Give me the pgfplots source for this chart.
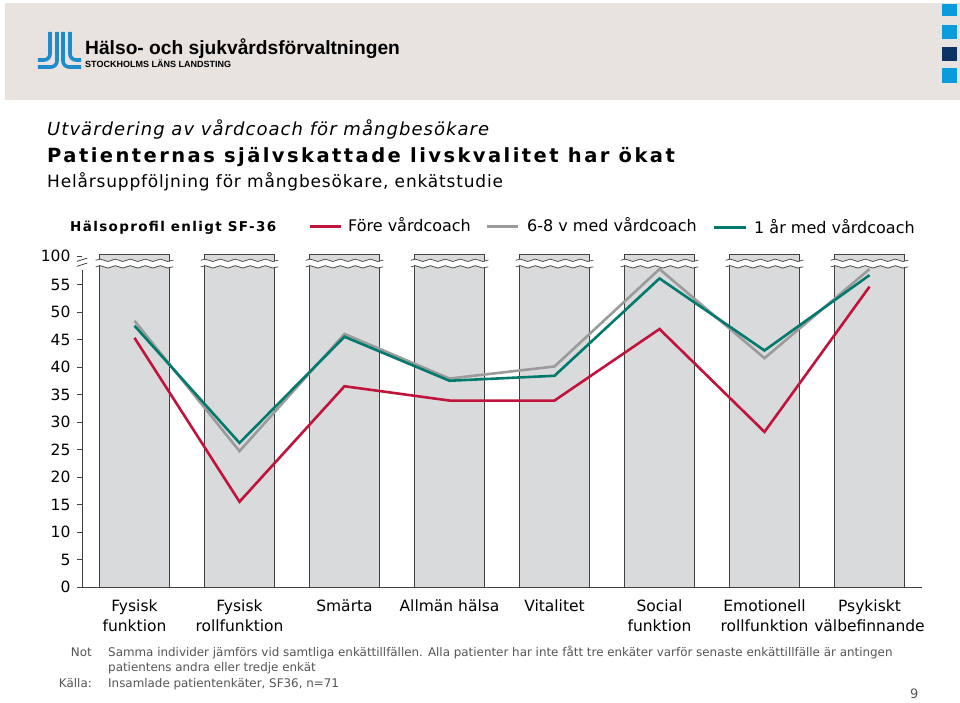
\documentclass[border=0pt]{standalone}
\usepackage{fontspec}
\setmainfont{DejaVu Sans}
\newfontfamily\logofont{Liberation Sans}
\newfontfamily\titleit[LetterSpace=5.8]{DejaVu Sans Oblique}
\newfontfamily\titlebf[LetterSpace=12.5]{DejaVu Sans Bold}
\newfontfamily\titlerm[LetterSpace=4.8]{DejaVu Sans}
\newfontfamily\legbf[LetterSpace=10.0]{DejaVu Sans Bold}
\usepackage{pgfplots}
\pgfplotsset{compat=1.18}
\usetikzlibrary{decorations.pathmorphing}
\pgfdeclarelayer{background}
\pgfsetlayers{background,main}
\definecolor{cred}{HTML}{C0143C}
\definecolor{cgray}{HTML}{9B9B9B}
\definecolor{cteal}{HTML}{007A6E}
\definecolor{cbar}{HTML}{D9DADC}
\definecolor{cbeige}{HTML}{E9E3DF}
\definecolor{cblue}{HTML}{0A9BDC}
\definecolor{cnavy}{HTML}{0C3366}
\definecolor{clogo}{HTML}{1E8CCB}
\definecolor{cnote}{HTML}{555555}
\definecolor{caxis}{HTML}{404040}

\begin{document}
\begin{tikzpicture}[x=1pt,y=1pt]
\begin{axis}[
  scale only axis, width=840pt, height=335.5pt,
  xmin=-0.5, xmax=7.5, ymin=0, ymax=61,
  axis x line=bottom, axis y line=left,
  x axis line style={-, draw=caxis, line width=0.9pt},
  y axis line style={draw=none},
  xtick={0,...,7},
  xticklabels={{Fysisk\\funktion},{Fysisk\\rollfunktion},Smärta,{Allmän hälsa},Vitalitet,{Social\\funktion},{Emotionell\\rollfunktion},{Psykiskt\\välbefinnande}},
  xticklabel style={align=center, font=\fontsize{15.5}{20}\selectfont, yshift=-4pt},
  x tick style={draw=none},
  ytick={0,5,...,55},
  extra y ticks={60.2}, extra y tick labels={100},
  y tick style={draw=caxis, line width=0.8pt},
  tick align=outside, major tick length=5pt,
  yticklabel style={font=\fontsize{15.5}{18}\selectfont, xshift=-3pt},
  /pgf/number format/assume math mode=true,
  clip=false,
]
\coordinate (P0) at (axis cs:0,0);
\addplot[ybar, bar width=0.67, fill=cbar, draw=caxis, line width=0.8pt] coordinates {
(0,60.5) (1,60.5) (2,60.5) (3,60.5) (4,60.5) (5,60.5) (6,60.5) (7,60.5)};
\pgfplotsinvokeforeach{0,...,7}{
  \draw[white, line width=5.5pt, decorate, decoration={snake, amplitude=1.2pt, segment length=15pt}] (axis cs:#1-0.37,58.85) -- (axis cs:#1+0.37,58.85);
  \draw[caxis, line width=0.7pt, decorate, decoration={snake, amplitude=1.2pt, segment length=15pt}] (axis cs:#1-0.37,59.4) -- (axis cs:#1+0.37,59.4);
  \draw[caxis, line width=0.7pt, decorate, decoration={snake, amplitude=1.2pt, segment length=15pt}] (axis cs:#1-0.37,58.2) -- (axis cs:#1+0.37,58.2);
}
% y axis line with break
\draw[caxis, line width=0.9pt] (axis cs:-0.5,0) -- (axis cs:-0.5,57.7);
\draw[caxis, line width=0.8pt] (axis cs:-0.55,58.3) -- (axis cs:-0.45,58.9);
\draw[caxis, line width=0.8pt] (axis cs:-0.55,59.2) -- (axis cs:-0.45,59.8);
\addplot[cred, line width=2.6pt] coordinates {
(0,45.3) (1,15.5) (2,36.5) (3,33.9) (4,33.9) (5,46.9) (6,28.2) (7,54.6)};
\addplot[cgray, line width=2.6pt] coordinates {
(0,48.4) (1,24.7) (2,46.0) (3,37.9) (4,40.1) (5,57.8) (6,41.6) (7,57.8)};
\addplot[cteal, line width=2.6pt] coordinates {
(0,47.5) (1,26.2) (2,45.5) (3,37.5) (4,38.4) (5,56.1) (6,43.0) (7,56.7)};
\end{axis}

\begin{scope}[shift={(P0)}]
\begin{scope}[shift={(-134.5,-116)}]
\begin{pgfonlayer}{background}
\path[fill=white] (0,0) rectangle (960,703);
\end{pgfonlayer}
% header band
\fill[cbeige] (5,603) rectangle (960,700);
\fill[cblue] (942,687) rectangle (957,699);
\fill[cblue] (942,664) rectangle (957,678);
\fill[cnavy] (942,642) rectangle (957,656);
\fill[cblue] (942,620) rectangle (957,635);
% logo
\begin{scope}[clogo, line width=3.6pt, rounded corners=6pt]
\draw (50,671) -- (50,643) -- (38,643);
\draw (57,671) -- (57,636) -- (38,636);
\draw (63,671) -- (63,636) -- (81,636);
\draw (70,671) -- (70,643) -- (81,643);
\end{scope}
\node[anchor=base west, inner sep=0pt, font=\logofont\bfseries\fontsize{19.2}{21}\selectfont] at (85,648) {Hälso- och sjukvårdsförvaltningen};
\node[anchor=base west, inner sep=0pt, font=\logofont\bfseries\fontsize{9.0}{10}\selectfont] at (85,635) {STOCKHOLMS LÄNS LANDSTING};
% titles
\node[anchor=base west, inner sep=0pt, font=\titleit\fontsize{18}{20}\selectfont] at (47,567) {Utvärdering av vårdcoach för mångbesökare};
\node[anchor=base west, inner sep=0pt, font=\titlebf\fontsize{19.5}{22}\selectfont] at (47,540) {Patienternas självskattade livskvalitet har ökat};
\node[anchor=base west, inner sep=0pt, font=\titlerm\fontsize{17}{19}\selectfont] at (47,515) {Helårsuppföljning för mångbesökare, enkätstudie};
% legend
\node[anchor=base west, inner sep=0pt, font=\legbf\fontsize{13.5}{16}\selectfont] at (70,471) {Hälsoprofil enligt SF-36};
\draw[cred, line width=3pt] (310,476) -- (341,476);
\node[anchor=base west, inner sep=0pt, font=\fontsize{16}{18}\selectfont] at (348,471) {Före vårdcoach};
\draw[cgray, line width=3pt] (487,476) -- (518,476);
\node[anchor=base west, inner sep=0pt, font=\fontsize{16}{18}\selectfont] at (527,471) {6-8 v med vårdcoach};
\draw[cteal, line width=3pt] (714,475) -- (746,475);
\node[anchor=base west, inner sep=0pt, font=\fontsize{16}{18}\selectfont] at (754,469) {1 år med vårdcoach};
% notes
\begin{scope}[cnote, font=\fontsize{11.9}{13}\selectfont]
\node[anchor=base east, inner sep=0pt] at (92,46) {Not};
\node[anchor=base west, inner sep=0pt] at (108,46) {Samma individer jämförs vid samtliga enkättillfällen. Alla patienter har inte fått tre enkäter varför senaste enkättillfälle är antingen};
\node[anchor=base west, inner sep=0pt] at (108,31) {patientens andra eller tredje enkät};
\node[anchor=base east, inner sep=0pt] at (92,15) {Källa:};
\node[anchor=base west, inner sep=0pt] at (108,15) {Insamlade patientenkäter, SF36, n=71};
\end{scope}
\node[anchor=base west, inner sep=0pt, cnote, font=\fontsize{13}{15}\selectfont] at (910,4) {9};
\end{scope}
\end{scope}
\end{tikzpicture}
\end{document}
